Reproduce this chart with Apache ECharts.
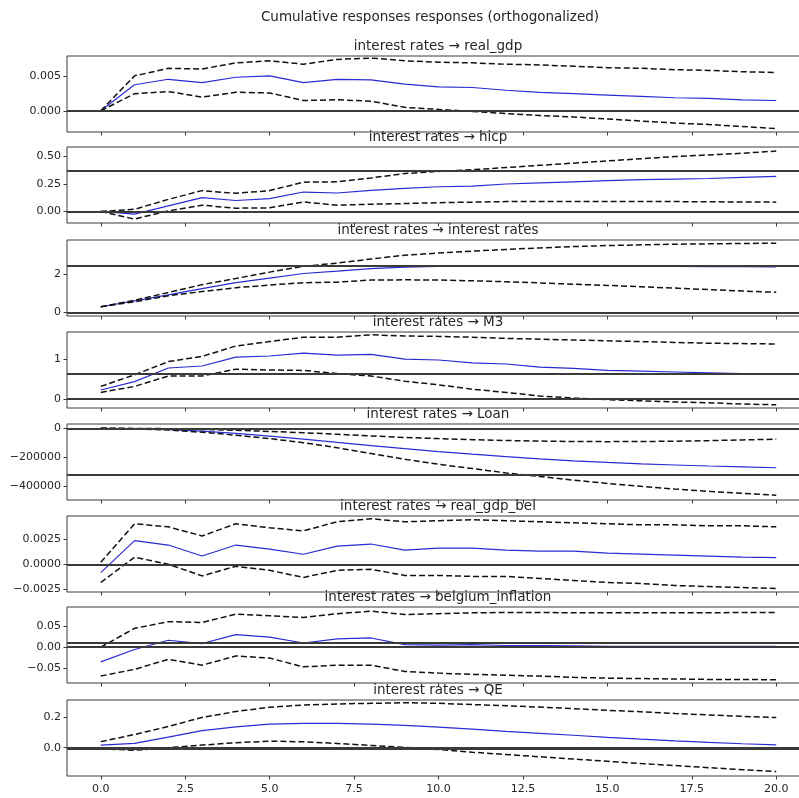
<!DOCTYPE html>
<html>
<head>
<meta charset="utf-8">
<script src="https://cdn.jsdelivr.net/npm/echarts@6/dist/echarts.min.js"></script>
<style>
  html, body { margin: 0; padding: 0; background: #ffffff; }
  #chart { width: 799px; height: 798px; }
</style>
</head>
<body>
<div id="chart"></div>
<script>
// Horizon steps
const steps = [0,1,2,3,4,5,6,7,8,9,10,11,12,13,14,15,16,17,18,19,20];
const xTicks = [0, 2.5, 5, 7.5, 10, 12.5, 15, 17.5, 20];

// interest rates -> real_gdp
const realGdpMid   = [0, 0.0038, 0.0046, 0.0041, 0.0049, 0.0051, 0.0041, 0.0046, 0.0045, 0.0039, 0.0035, 0.0034, 0.0030, 0.0027, 0.0025, 0.0023, 0.0021, 0.0019, 0.0018, 0.0016, 0.0015];
const realGdpUpper = [0, 0.0051, 0.0062, 0.0061, 0.0070, 0.0073, 0.0068, 0.0075, 0.0077, 0.0073, 0.0071, 0.0070, 0.0068, 0.0067, 0.0065, 0.0063, 0.0062, 0.0060, 0.0059, 0.0057, 0.0056];
const realGdpLower = [0, 0.0025, 0.0028, 0.0020, 0.0027, 0.0026, 0.0015, 0.0016, 0.0014, 0.0005, 0.0002, -0.0001, -0.0004, -0.0007, -0.0009, -0.0012, -0.0015, -0.0018, -0.0020, -0.0023, -0.0026];
const realGdpRefs  = [0, 0.00092];
const realGdpTicks = [0, 0.005];

// interest rates -> hicp
const hicpMid   = [0, -0.024, 0.051, 0.126, 0.100, 0.117, 0.177, 0.168, 0.192, 0.210, 0.225, 0.230, 0.250, 0.260, 0.270, 0.280, 0.290, 0.295, 0.300, 0.310, 0.320];
const hicpUpper = [0, 0.020, 0.110, 0.190, 0.165, 0.190, 0.267, 0.270, 0.305, 0.345, 0.365, 0.380, 0.400, 0.420, 0.440, 0.460, 0.480, 0.500, 0.515, 0.530, 0.550];
const hicpLower = [0, -0.069, 0.006, 0.057, 0.030, 0.033, 0.087, 0.057, 0.066, 0.072, 0.080, 0.085, 0.090, 0.090, 0.090, 0.090, 0.090, 0.090, 0.088, 0.086, 0.085];
const hicpRefs  = [0, 0.371];
const hicpTicks = [0, 0.25, 0.5];

// interest rates -> interest rates
const ratesMid   = [0.29, 0.60, 0.91, 1.23, 1.54, 1.78, 2.02, 2.14, 2.27, 2.35, 2.39, 2.41, 2.42, 2.42, 2.41, 2.40, 2.40, 2.39, 2.38, 2.37, 2.36];
const ratesUpper = [0.29, 0.63, 1.03, 1.44, 1.76, 2.09, 2.39, 2.56, 2.77, 2.97, 3.08, 3.18, 3.27, 3.35, 3.42, 3.47, 3.51, 3.54, 3.56, 3.58, 3.59];
const ratesLower = [0.29, 0.55, 0.86, 1.08, 1.28, 1.42, 1.54, 1.57, 1.68, 1.69, 1.68, 1.64, 1.59, 1.53, 1.46, 1.40, 1.33, 1.26, 1.18, 1.11, 1.04];
const ratesRefs  = [0, 2.43];
const ratesTicks = [0, 2];

// interest rates -> M3
const m3Mid   = [0.23, 0.44, 0.78, 0.83, 1.05, 1.08, 1.15, 1.10, 1.12, 1.00, 0.98, 0.91, 0.88, 0.80, 0.77, 0.72, 0.70, 0.68, 0.66, 0.64, 0.63];
const m3Upper = [0.32, 0.61, 0.94, 1.07, 1.33, 1.44, 1.55, 1.55, 1.61, 1.58, 1.57, 1.55, 1.52, 1.50, 1.48, 1.46, 1.44, 1.42, 1.40, 1.39, 1.38];
const m3Lower = [0.17, 0.32, 0.58, 0.58, 0.75, 0.73, 0.72, 0.64, 0.58, 0.45, 0.36, 0.25, 0.17, 0.08, 0.03, -0.01, -0.04, -0.07, -0.09, -0.12, -0.14];
const m3Refs  = [0, 0.625];
const m3Ticks = [0, 1];

// interest rates -> Loan
const loanMid   = [0, -4000, -10000, -20000, -35000, -55000, -75000, -98000, -120000, -142000, -162000, -180000, -197000, -212000, -226000, -237000, -247000, -255000, -262000, -268000, -274000];
const loanUpper = [0, -1000, -3000, -8000, -14000, -22000, -31000, -42000, -53000, -64000, -72000, -79000, -85000, -89000, -92000, -93000, -92000, -90000, -86000, -81000, -76000];
const loanLower = [0, -4000, -12000, -28000, -48000, -72000, -100000, -135000, -175000, -215000, -250000, -280000, -310000, -335000, -360000, -383000, -403000, -422000, -438000, -452000, -465000];
const loanRefs  = [0, -320000];
const loanTicks = [0, -200000, -400000];

// interest rates -> real_gdp_bel
const gdpBelMid   = [-0.00082, 0.00234, 0.0019, 0.00082, 0.0019, 0.0015, 0.00099, 0.0018, 0.0020, 0.0014, 0.0016, 0.0016, 0.0014, 0.0013, 0.0013, 0.0011, 0.0010, 0.0009, 0.0008, 0.0007, 0.00065];
const gdpBelUpper = [0.0002, 0.0040, 0.0037, 0.0028, 0.0040, 0.0036, 0.0033, 0.0042, 0.0045, 0.0042, 0.0043, 0.0044, 0.0043, 0.0042, 0.0041, 0.0040, 0.0039, 0.0039, 0.0038, 0.0038, 0.0037];
const gdpBelLower = [-0.0018, 0.0007, 0.0, -0.00115, -0.0002, -0.0006, -0.0013, -0.0006, -0.0005, -0.0011, -0.0011, -0.0012, -0.0012, -0.0014, -0.0016, -0.0018, -0.0019, -0.0021, -0.0022, -0.0023, -0.0024];
const gdpBelRefs  = [0, 0.0003];
const gdpBelTicks = [-0.0025, 0, 0.0025];

// interest rates -> belgium_inflation
const inflMid   = [-0.035, -0.0055, 0.0165, 0.0087, 0.030, 0.024, 0.010, 0.020, 0.022, 0.006, 0.005, 0.006, 0.004, 0.004, 0.003, 0.002, 0.002, 0.002, 0.002, 0.002, 0.002];
const inflUpper = [0, 0.045, 0.061, 0.059, 0.079, 0.075, 0.071, 0.080, 0.086, 0.078, 0.080, 0.082, 0.083, 0.083, 0.082, 0.082, 0.082, 0.082, 0.082, 0.083, 0.083];
const inflLower = [-0.069, -0.053, -0.029, -0.043, -0.021, -0.026, -0.047, -0.043, -0.043, -0.058, -0.062, -0.065, -0.067, -0.069, -0.072, -0.074, -0.075, -0.076, -0.077, -0.077, -0.078];
const inflRefs  = [0, 0.01];
const inflTicks = [-0.05, 0, 0.05];

// interest rates -> QE
const qeMid   = [0.017, 0.028, 0.070, 0.113, 0.137, 0.156, 0.161, 0.161, 0.156, 0.148, 0.136, 0.122, 0.108, 0.095, 0.082, 0.068, 0.056, 0.045, 0.035, 0.026, 0.018];
const qeUpper = [0.040, 0.087, 0.140, 0.200, 0.239, 0.267, 0.282, 0.289, 0.293, 0.297, 0.293, 0.285, 0.277, 0.268, 0.258, 0.247, 0.237, 0.226, 0.216, 0.207, 0.199];
const qeLower = [-0.007, -0.017, 0, 0.017, 0.033, 0.043, 0.039, 0.028, 0.015, 0.002, -0.012, -0.030, -0.045, -0.060, -0.075, -0.090, -0.105, -0.118, -0.132, -0.145, -0.158];
const qeRefs  = [0, -0.007];
const qeTicks = [0, 0.2];

const panels = [
  { title: 'interest rates \u2192 real_gdp', mid: realGdpMid, upper: realGdpUpper, lower: realGdpLower, refs: realGdpRefs, ticks: realGdpTicks, min: -0.0031, max: 0.0080, dec: 3 },
  { title: 'interest rates \u2192 hicp', mid: hicpMid, upper: hicpUpper, lower: hicpLower, refs: hicpRefs, ticks: hicpTicks, min: -0.105, max: 0.587, dec: 2 },
  { title: 'interest rates \u2192 interest rates', mid: ratesMid, upper: ratesUpper, lower: ratesLower, refs: ratesRefs, ticks: ratesTicks, min: -0.19, max: 3.76, dec: 0 },
  { title: 'interest rates \u2192 M3', mid: m3Mid, upper: m3Upper, lower: m3Lower, refs: m3Refs, ticks: m3Ticks, min: -0.22, max: 1.68, dec: 0 },
  { title: 'interest rates \u2192 Loan', mid: loanMid, upper: loanUpper, lower: loanLower, refs: loanRefs, ticks: loanTicks, min: -498000, max: 29500, dec: 0 },
  { title: 'interest rates \u2192 real_gdp_bel', mid: gdpBelMid, upper: gdpBelUpper, lower: gdpBelLower, refs: gdpBelRefs, ticks: gdpBelTicks, min: -0.00274, max: 0.00477, dec: 4 },
  { title: 'interest rates \u2192 belgium_inflation', mid: inflMid, upper: inflUpper, lower: inflLower, refs: inflRefs, ticks: inflTicks, min: -0.0856, max: 0.096, dec: 2 },
  { title: 'interest rates \u2192 QE', mid: qeMid, upper: qeUpper, lower: qeLower, refs: qeRefs, ticks: qeTicks, min: -0.187, max: 0.315, dec: 1 }
];

const FONT = 'DejaVu Sans';
const TEXT = '#262626';
const plotLeft = 67;
const plotWidth = 743;          // axes run slightly past the canvas edge
const plotHeight = 76;
const panelTops = [56, 147, 240, 332, 424, 516, 607, 700];

function fmt(v, dec) {
  const s = Math.abs(v).toFixed(dec);
  return (v < 0 ? '\u2212' : '') + s;
}

const pairs = (ys) => steps.map((x, k) => [x, ys[k]]);

const titles = [{
  text: 'Cumulative responses responses (orthogonalized)',
  left: 430, top: 10, textAlign: 'center', padding: 0,
  textStyle: { fontFamily: FONT, fontSize: 13.5, fontWeight: 'normal', color: TEXT }
}];
const grids = [], xAxes = [], yAxes = [], series = [];

panels.forEach((p, i) => {
  const top = panelTops[i];
  const last = i === panels.length - 1;
  titles.push({
    text: p.title, left: 438, top: top - 17, textAlign: 'center', padding: 0,
    textStyle: { fontFamily: FONT, fontSize: 13.5, fontWeight: 'normal', color: TEXT }
  });
  grids.push({
    left: plotLeft, width: plotWidth, top: top, height: plotHeight,
    outerBoundsMode: 'none', containLabel: false,
    show: true, borderColor: '#3a3a3a', borderWidth: 1, backgroundColor: '#ffffff'
  });
  xAxes.push({
    type: 'value', gridIndex: i, min: -1, max: 21, position: 'bottom',
    axisLine: { show: false, onZero: false },
    splitLine: { show: false },
    axisTick: { show: true, length: 3.5, customValues: xTicks, lineStyle: { color: '#3a3a3a' } },
    axisLabel: {
      show: last, customValues: xTicks, margin: 8,
      fontFamily: FONT, fontSize: 11, color: TEXT,
      formatter: v => v.toFixed(1)
    }
  });
  yAxes.push({
    type: 'value', gridIndex: i, min: p.min, max: p.max, position: 'left',
    axisLine: { show: false, onZero: false },
    splitLine: { show: false },
    axisTick: { show: true, length: 3.5, customValues: p.ticks, lineStyle: { color: '#3a3a3a' } },
    axisLabel: {
      customValues: p.ticks, margin: 6,
      fontFamily: FONT, fontSize: 11, color: TEXT,
      formatter: v => fmt(v, p.dec)
    }
  });
  series.push({
    type: 'line', xAxisIndex: i, yAxisIndex: i, data: pairs(p.mid),
    showSymbol: false, symbol: 'none', silent: true,
    lineStyle: { color: '#2a2ad2', width: 1.2 },
    z: 3
  });
  series.push({
    type: 'line', xAxisIndex: i, yAxisIndex: i, data: pairs(p.upper),
    showSymbol: false, symbol: 'none', silent: true,
    lineStyle: { color: '#111111', width: 1.5, type: [6, 3] },
    z: 3
  });
  series.push({
    type: 'line', xAxisIndex: i, yAxisIndex: i, data: pairs(p.lower),
    showSymbol: false, symbol: 'none', silent: true,
    lineStyle: { color: '#111111', width: 1.5, type: [6, 3] },
    z: 3,
    markLine: {
      silent: true, symbol: 'none', animation: false,
      label: { show: false },
      lineStyle: { color: '#3a3a3a', width: 2, type: 'solid' },
      data: p.refs.map(v => ({ yAxis: v }))
    }
  });
});

const chart = echarts.init(document.getElementById('chart'), null, { renderer: 'canvas' });
chart.setOption({
  backgroundColor: '#ffffff',
  animation: false,
  title: titles,
  grid: grids,
  xAxis: xAxes,
  yAxis: yAxes,
  series: series
});
</script>
</body>
</html>
